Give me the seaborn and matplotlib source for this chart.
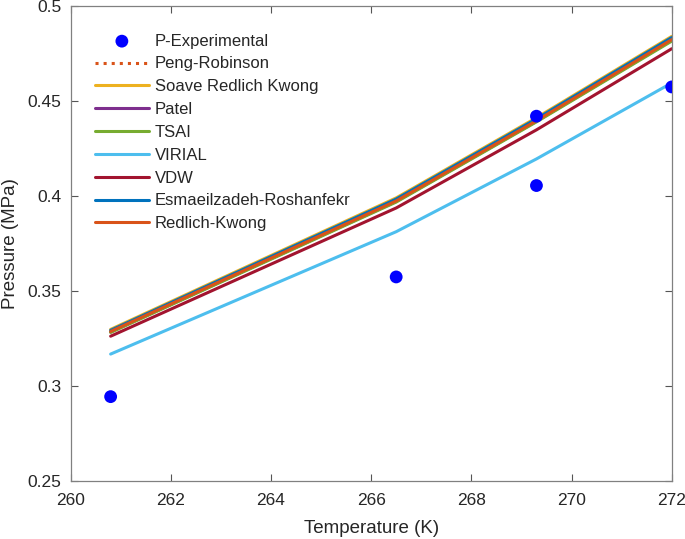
import numpy as np
import pandas as pd
import matplotlib
matplotlib.use("Agg")
import matplotlib.pyplot as plt
import seaborn as sns

# experimental points
t_exp = [260.8, 266.5, 269.3, 269.3, 272.0]
p_exp = [0.2944, 0.3574, 0.4420, 0.4055, 0.4574]

# model curves evaluated at the measured temperatures
t_model = [260.8, 266.5, 269.3, 272.0]
p_peng_robinson = [0.3288, 0.3976, 0.4398, 0.4826]
p_srk = [0.3298, 0.3990, 0.4412, 0.4840]
p_patel = [0.3284, 0.3971, 0.4393, 0.4819]
p_tsai = [0.3282, 0.3968, 0.4390, 0.4815]
p_virial = [0.3168, 0.3812, 0.4195, 0.4595]
p_vdw = [0.3262, 0.3937, 0.4348, 0.4775]
p_esm_rosh = [0.3293, 0.3984, 0.4406, 0.4834]
p_redlich_kwong = [0.3287, 0.3974, 0.4396, 0.4823]

models = [
    ("Peng-Robinson", p_peng_robinson, "#D95319", ":"),
    ("Soave Redlich Kwong", p_srk, "#EDB120", "-"),
    ("Patel", p_patel, "#7E2F8E", "-"),
    ("TSAI", p_tsai, "#77AC30", "-"),
    ("VIRIAL", p_virial, "#4DBEEE", "-"),
    ("VDW", p_vdw, "#A2142F", "-"),
    ("Esmaeilzadeh-Roshanfekr", p_esm_rosh, "#0072BD", "-"),
    ("Redlich-Kwong", p_redlich_kwong, "#D95319", "-"),
]

sns.set_style("white")
plt.rcParams["font.family"] = ["Liberation Sans", "DejaVu Sans"]

fig = plt.figure(figsize=(6.85, 5.39), dpi=100)
ax = fig.add_axes([0.103, 0.1076, 0.8776, 0.8813])

sns.scatterplot(x=t_exp, y=p_exp, color="#0000FF", s=85, edgecolor="none",
                ax=ax, label="P-Experimental", zorder=5)

for name, vals, color, ls in models:
    sns.lineplot(x=t_model, y=vals, color=color, linestyle=ls, linewidth=2.2,
                 ax=ax, label=name)

ax.set_xlim(260, 272)
ax.set_ylim(0.25, 0.5)
ax.set_xticks(np.arange(260, 273, 2))
ax.set_yticks([0.25, 0.3, 0.35, 0.4, 0.45, 0.5])
ax.set_yticklabels(["0.25", "0.3", "0.35", "0.4", "0.45", "0.5"])
ax.set_xlabel("Temperature (K)", fontsize=13.5, color="#262626", labelpad=9)
ax.set_ylabel("Pressure (MPa)", fontsize=13.5, color="#262626", labelpad=6)

for side in ["left", "right", "top", "bottom"]:
    ax.spines[side].set_visible(True)
    ax.spines[side].set_color("#808080")
    ax.spines[side].set_linewidth(0.9)
ax.tick_params(direction="in", length=5, width=0.8, color="#555555",
               labelsize=12.5, labelcolor="#262626", top=True, right=True,
               bottom=True, left=True)
ax.tick_params(axis="x", pad=8.5)
ax.tick_params(axis="y", pad=6.5)
ax.grid(False)

leg = ax.legend(loc="upper left", bbox_to_anchor=(0.041, 0.942), frameon=False,
                fontsize=12, handlelength=3.2, handletextpad=0.36,
                labelspacing=0.47, borderaxespad=0, borderpad=0)

fig.savefig("out.png", dpi=100)
